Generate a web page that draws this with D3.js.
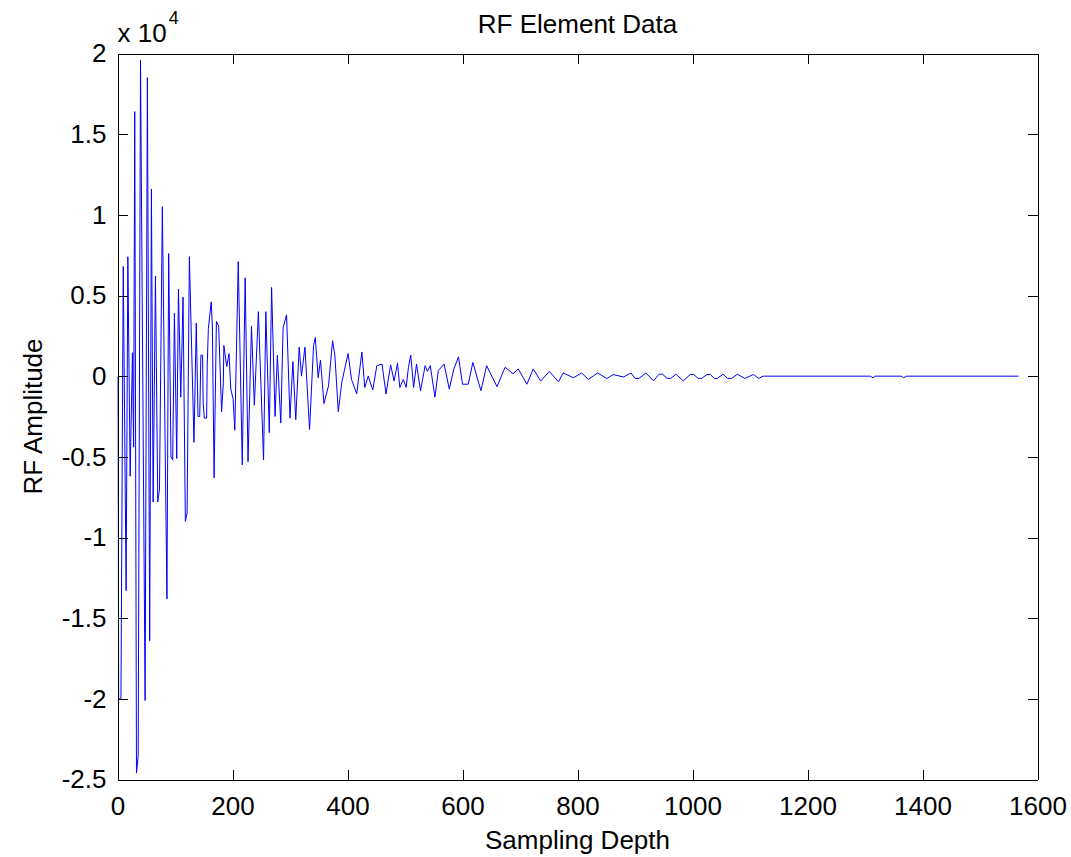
<!DOCTYPE html>
<meta charset="utf-8" />
<style>
  body {
    margin: 0;
    background: #fff;
  }
  svg text {
    font-family: 'Liberation Sans', Arial, sans-serif;
    fill: #000;
  }
  .axis path,
  .axis line {
    stroke: #000;
    shape-rendering: crispEdges;
  }
  .line {
    fill: none;
    stroke: #0000ff;
    stroke-width: 1px;
  }
</style>
<svg width="1071" height="857"></svg>
<script src="https://d3js.org/d3.v7.min.js"></script>
<script>
  // sample index (depth) and RF amplitude of the read vertices
  var depth = [
    1, 2, 6, 10, 15, 18, 22, 26, 28, 30, 33, 36, 40, 48, 52, 56, 59, 62,
    66, 70, 73, 78, 86, 89, 93, 96, 99, 103, 106, 110, 114, 118, 121, 125,
    133, 137, 140, 143, 145, 148, 149, 151, 155, 156, 158, 163, 165, 168,
    172, 176, 181, 184, 185, 190, 194, 197, 201, 204, 210, 217, 222, 227,
    233, 238, 245, 254, 258, 264, 268, 274, 278, 284, 288, 294, 300, 305,
    310, 316, 320, 326, 334, 341, 344, 349, 353, 359, 367, 374, 378, 384,
    390, 396, 401, 407, 416, 425, 430, 436, 444, 451, 460, 467, 475, 481,
    487, 491, 497, 502, 506, 510, 515, 520, 527, 535, 539, 544, 552, 558,
    568, 577, 585, 593, 600, 610, 618, 632, 642, 660, 674, 688, 697, 712,
    723, 736, 751, 767, 775, 793, 807, 819, 835, 851, 862, 880, 893, 900,
    907, 919, 932, 942, 948, 956, 962, 971, 984, 996, 1002, 1010, 1016,
    1025, 1031, 1038, 1043, 1053, 1061, 1068, 1078, 1091, 1106, 1115,
    1123, 1309, 1314, 1318, 1363, 1367, 1372, 1567,
  ];
  var amplitude = [
    0, -20000, -20000, 6800, -13300, 7400, -6200, 1450, -4400, 16400,
    -24600, -23500, 19600, -20100, 18500, -16400, 11600, -7800, 6200,
    -7800, -7000, 10500, -13800, 7600, -5000, -5200, 3900, -5100, 5400,
    -1300, 4900, -9000, -8500, 7400, -4100, 3300, -2500, -2500, 1300,
    1300, -1700, -2600, -2600, 600, 2950, 4600, 3050, -6300, 3400, 3100,
    -2200, -450, 1900, 600, 1400, -800, -1400, -3350, 7100, -5500, 6100,
    -5300, 3100, -1800, 4000, -5200, 4000, -3500, 5500, -2500, 1300,
    -2900, 3000, 3800, -2600, 900, -2700, 1800, 0, 1800, -3300, 1900,
    2400, -100, 1000, -1700, -600, 2200, 1300, -2200, -400, 600, 1400,
    -200, -1100, 1500, -700, 0, -850, 650, 750, -1100, 700, -300, 800,
    -700, -200, -700, 550, 1300, -700, 750, -900, 650, 300, 650, -1300,
    350, 750, -800, 450, 1200, -500, -500, 850, -900, 650, -650, 550, 150,
    450, -500, 450, -300, 300, -350, 200, -100, 200, -200, 200, -150, 100,
    -50, 200, -140, -140, 200, -290, 120, 120, -140, -140, 120, -290, 100,
    100, -140, -140, 100, 100, -140, -140, 120, -140, -140, 120, -140, 100,
    -140, 0, 0, -100, 0, 0, -100, 0, 0,
  ];

  var xTicks = [0, 200, 400, 600, 800, 1000, 1200, 1400, 1600];
  var yTicks = [
    -25000, -20000, -15000, -10000, -5000, 0, 5000, 10000, 15000, 20000,
  ];
  var yTickLabels = [
    '-2.5', '-2', '-1.5', '-1', '-0.5', '0', '0.5', '1', '1.5', '2',
  ];

  var svg = d3.select('svg'),
    margin = { top: 53.5, right: 33.5, bottom: 77.5, left: 117.5 },
    width = +svg.attr('width') - margin.left - margin.right,
    height = +svg.attr('height') - margin.top - margin.bottom,
    g = svg
      .append('g')
      .attr('transform', 'translate(' + margin.left + ',' + margin.top + ')');

  var x = d3.scaleLinear().domain([0, 1600]).range([0, width]),
    y = d3.scaleLinear().domain([-25000, 20000]).range([height, 0]);

  var points = depth.map(function (d, i) {
    return { depth: d, value: amplitude[i] };
  });

  var line = d3
    .line()
    .x(function (d) {
      return x(d.depth);
    })
    .y(function (d) {
      return y(d.value);
    });

  g.append('path').datum(points).attr('class', 'line').attr('d', line);

  var fs = 26;

  // MATLAB style box with inward ticks on all four sides
  g.append('g')
    .attr('class', 'axis')
    .attr('transform', 'translate(0,' + height + ')')
    .call(
      d3
        .axisBottom(x)
        .tickValues(xTicks)
        .tickSizeInner(-10)
        .tickSizeOuter(0)
        .tickPadding(17)
        .tickFormat(d3.format('d'))
    )
    .selectAll('text')
    .style('font-size', fs + 'px');

  g.append('g')
    .attr('class', 'axis')
    .call(
      d3.axisTop(x).tickValues(xTicks).tickSizeInner(-10).tickSizeOuter(0).tickFormat('')
    );

  g.append('g')
    .attr('class', 'axis')
    .call(
      d3
        .axisLeft(y)
        .tickValues(yTicks)
        .tickSizeInner(-10)
        .tickSizeOuter(0)
        .tickPadding(11)
        .tickFormat(function (d, i) {
          return yTickLabels[i];
        })
    )
    .selectAll('text')
    .style('font-size', fs + 'px');

  g.append('g')
    .attr('class', 'axis')
    .attr('transform', 'translate(' + width + ',0)')
    .call(
      d3.axisRight(y).tickValues(yTicks).tickSizeInner(-10).tickSizeOuter(0).tickFormat('')
    );

  svg.selectAll('.domain').attr('stroke-width', 1);

  // exponent label
  var expo = svg
    .append('text')
    .attr('x', margin.left)
    .attr('y', 42)
    .style('font-size', fs + 'px');
  expo.append('tspan').text('x 10');
  expo
    .append('tspan')
    .attr('dy', -18)
    .attr('dx', 2)
    .style('font-size', '18px')
    .text('4');

  svg
    .append('text')
    .attr('x', margin.left + width / 2)
    .attr('y', 33)
    .attr('text-anchor', 'middle')
    .style('font-size', fs + 'px')
    .text('RF Element Data');

  svg
    .append('text')
    .attr('x', margin.left + width / 2)
    .attr('y', 849)
    .attr('text-anchor', 'middle')
    .style('font-size', fs + 'px')
    .text('Sampling Depth');

  svg
    .append('text')
    .attr('transform', 'translate(42,' + (margin.top + height / 2) + ') rotate(-90)')
    .attr('text-anchor', 'middle')
    .style('font-size', fs + 'px')
    .text('RF Amplitude');
</script>
